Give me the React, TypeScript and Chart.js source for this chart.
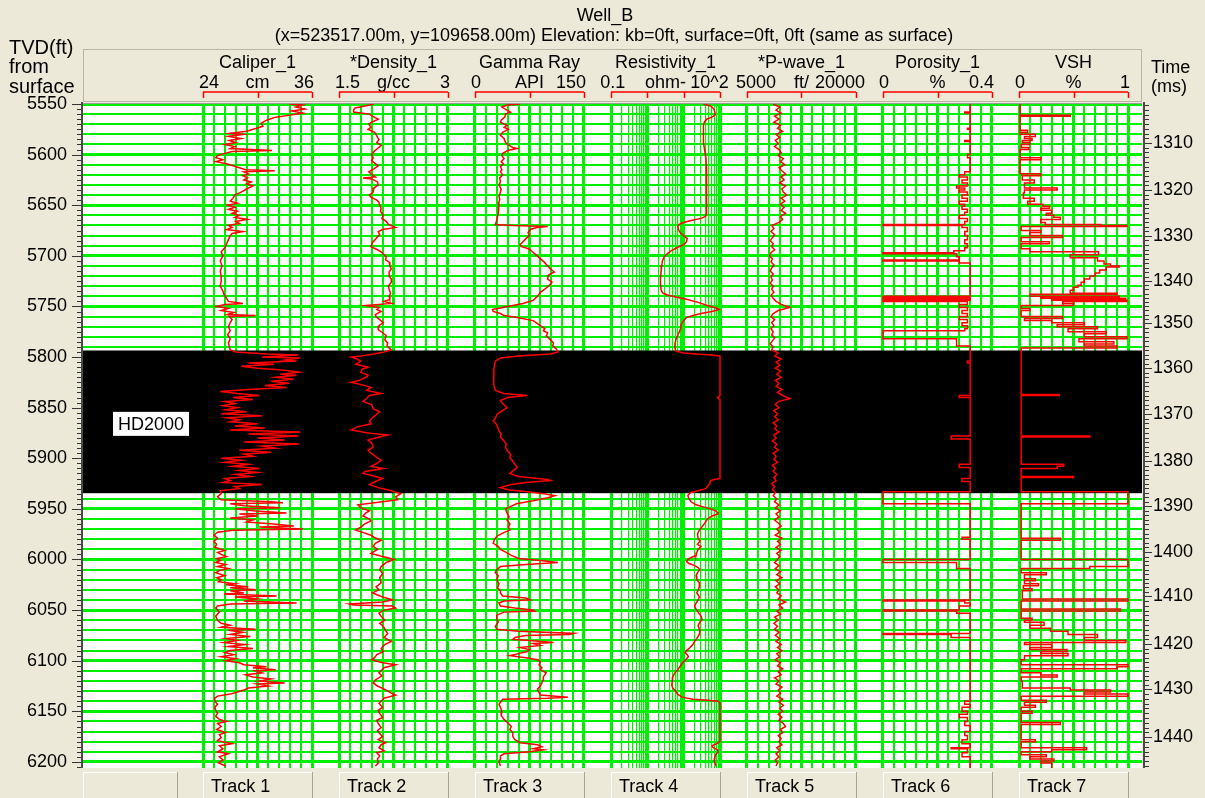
import React, { useEffect, useRef } from 'react';
import { Chart, registerables } from 'chart.js';
Chart.register(...registerables);

// ---------------- layout constants ----------------
const W = 1205;
const H = 798;
const PLOT = { left: 83, right: 1142, top: 104, bottom: 768 };
const TRACK_LEFT0 = 203;
const TRACK_PITCH = 136;
const TRACK_WIDTH = 109;
const BG = '#ECE9D8';
const GRID = '#00ee00';
const CURVE = '#ff0000';
const FONT = '"Liberation Sans", Arial, sans-serif';
const GRID_THIN = 2;
const GRID_THICK = 3;
const GRID_LOG_MINOR = 1.2;

// ---------------- axis / label data ----------------
const depthMin = 5550;
const depthMax = 6206;
const depthLabelStep = 50;
const depthGridStep = 10;
const depthMinorStep = 5;

const trackNames = ['Caliper_1', '*Density_1', 'Gamma Ray', 'Resistivity_1', '*P-wave_1', 'Porosity_1', 'VSH'];
const trackMin = [24, 1.5, 0, 0.1, 5000, 0, 0];
const trackMax = [36, 3, 150, 100, 20000, 0.4, 1];
const trackLog = [false, false, false, true, false, false, false];
const trackMinLabel = ['24', '1.5', '0', '0.1', '5000', '0', '0'];
const trackUnit = ['cm', 'g/cc', 'API', 'ohm-', 'ft/', '%', '%'];
const trackMaxLabel = ['36', '3', '150', '10^2', '20000', '0.4', '1'];
const trackButtons = ['Track 1', 'Track 2', 'Track 3', 'Track 4', 'Track 5', 'Track 6', 'Track 7'];

const timeLabels = [1310, 1320, 1330, 1340, 1350, 1360, 1370, 1380, 1390, 1400, 1410, 1420, 1430, 1440];
const timeDepths = [5588.5, 5635, 5680.4, 5724.9, 5766.4, 5810.9, 5856.3, 5902.8, 5947.2, 5992.7, 6036.2, 6083.6, 6128.1, 6175.5];

const wellTitle = 'Well_B';
const wellSubtitle = '(x=523517.00m, y=109658.00m) Elevation: kb=0ft, surface=0ft, 0ft (same as surface)';
const zoneName = 'HD2000';
const zoneTop = 5793.5;
const zoneBottom = 5934.5;
const zoneLabelDepth = 5866;

// ---------------- curve data: [depth ft, value] ----------------
const caliper: number[][] = [
  [5550, 33.5], [5551, 35.0], [5553, 34.2], [5555, 35.2], [5557, 33.8], [5559, 35.0], [5561, 33.6], [5563, 32.0],
  [5566, 31.0], [5569, 30.4], [5572, 30.6], [5574, 29.9], [5577, 28.8], [5579, 27.0], [5580, 28.4], [5582, 26.8],
  [5584, 28.2], [5586, 26.9], [5588, 27.6], [5590, 26.4], [5592, 27.5], [5594, 27.0], [5596, 31.6], [5597, 27.2],
  [5599, 26.3], [5601, 25.6], [5603, 25.4], [5605, 26.2], [5607, 25.4], [5609, 26.6], [5611, 27.3], [5613, 28.0],
  [5615, 28.7], [5616, 31.9], [5617, 28.5], [5619, 29.0], [5621, 28.4], [5623, 28.9], [5625, 28.5], [5627, 29.3],
  [5629, 28.8], [5631, 29.5], [5634, 28.8], [5637, 28.2], [5640, 27.5], [5643, 27.3], [5646, 27.0], [5648, 27.8],
  [5650, 26.7], [5652, 27.5], [5654, 26.8], [5656, 27.8], [5658, 27.2], [5660, 28.0], [5662, 27.5], [5664, 28.9],
  [5666, 27.6], [5668, 28.0], [5670, 26.8], [5672, 27.2], [5674, 26.6], [5676, 28.4], [5678, 27.2], [5680, 27.0],
  [5684, 26.8], [5688, 26.6], [5692, 26.4], [5696, 26.0], [5700, 26.2], [5705, 25.9], [5710, 26.1], [5715, 25.9],
  [5720, 26.0], [5725, 26.0], [5730, 25.9], [5735, 26.2], [5738, 26.3], [5742, 26.6], [5745, 26.8], [5747, 28.4],
  [5748, 26.4], [5750, 25.5], [5752, 26.8], [5754, 26.0], [5756, 27.4], [5758, 26.7], [5759, 29.8], [5760, 26.9],
  [5763, 27.2], [5766, 27.0], [5770, 26.8], [5774, 27.0], [5778, 26.7], [5782, 27.0], [5786, 26.8], [5790, 26.9],
  [5793, 27.0], [5795, 27.6], [5797, 31.0], [5798, 34.5], [5800, 30.5], [5801, 34.7], [5803, 33.0], [5804, 34.3],
  [5806, 29.0], [5807, 31.8], [5809, 28.2], [5811, 30.0], [5813, 33.0], [5815, 34.6], [5817, 32.5], [5818, 34.3],
  [5820, 32.0], [5822, 34.0], [5824, 31.5], [5826, 33.5], [5828, 30.8], [5830, 33.2], [5832, 29.0], [5834, 25.9],
  [5836, 27.8], [5838, 30.2], [5840, 27.3], [5842, 29.5], [5844, 26.4], [5846, 27.5], [5848, 26.2], [5850, 27.8],
  [5852, 26.5], [5854, 28.8], [5856, 26.0], [5858, 30.5], [5860, 26.6], [5862, 28.0], [5864, 27.0], [5866, 30.0],
  [5868, 27.5], [5870, 30.8], [5872, 27.0], [5874, 34.7], [5876, 29.0], [5878, 34.5], [5880, 30.0], [5882, 33.0],
  [5884, 28.5], [5886, 34.6], [5888, 30.5], [5890, 32.0], [5892, 28.0], [5894, 31.5], [5896, 28.5], [5898, 29.5],
  [5900, 26.0], [5902, 28.2], [5904, 26.4], [5906, 29.0], [5908, 27.3], [5910, 30.2], [5912, 28.0], [5914, 30.0],
  [5916, 27.6], [5918, 29.2], [5920, 26.4], [5922, 27.0], [5924, 26.2], [5926, 30.5], [5928, 27.5], [5930, 28.0],
  [5932, 25.9], [5935, 26.0], [5938, 25.6], [5941, 26.0], [5943, 31.5], [5944, 32.8], [5945, 27.0], [5947, 28.5],
  [5949, 32.5], [5950, 27.5], [5952, 29.8], [5954, 33.2], [5955, 28.0], [5957, 30.0], [5959, 27.0], [5961, 29.5],
  [5963, 28.8], [5965, 31.8], [5967, 34.0], [5968, 30.2], [5970, 35.0], [5971, 27.3], [5973, 25.6], [5976, 25.2],
  [5979, 25.6], [5982, 25.2], [5985, 25.5], [5988, 25.3], [5991, 26.4], [5993, 25.6], [5995, 26.0], [5997, 26.6],
  [5999, 25.5], [6001, 25.9], [6003, 25.4], [6005, 26.5], [6007, 25.6], [6009, 26.8], [6011, 25.8], [6013, 25.4],
  [6016, 26.4], [6018, 25.5], [6020, 26.0], [6022, 25.7], [6024, 27.5], [6025, 26.5], [6027, 29.0], [6028, 27.0],
  [6030, 29.8], [6031, 27.0], [6033, 28.5], [6034, 26.3], [6036, 32.1], [6037, 27.5], [6039, 30.0], [6041, 28.5],
  [6043, 34.3], [6044, 27.0], [6046, 25.6], [6048, 25.4], [6052, 25.8], [6056, 25.4], [6060, 25.6], [6063, 26.0],
  [6065, 27.0], [6067, 26.0], [6069, 29.8], [6070, 26.8], [6072, 28.4], [6074, 27.0], [6076, 29.2], [6078, 26.5],
  [6080, 27.8], [6082, 26.3], [6084, 28.6], [6086, 26.8], [6088, 29.5], [6090, 27.0], [6092, 26.4], [6094, 27.4],
  [6096, 26.0], [6098, 27.6], [6100, 26.5], [6102, 28.0], [6104, 28.5], [6106, 31.0], [6107, 29.5], [6109, 32.0],
  [6110, 29.8], [6112, 30.5], [6114, 28.7], [6116, 29.5], [6118, 31.5], [6120, 30.2], [6122, 33.0], [6123, 30.0],
  [6125, 31.2], [6127, 29.0], [6129, 28.5], [6131, 27.8], [6133, 27.0], [6135, 25.6], [6137, 25.3], [6140, 25.3],
  [6143, 25.6], [6146, 25.3], [6149, 25.4], [6152, 25.6], [6155, 25.4], [6158, 25.8], [6160, 26.6], [6162, 25.6],
  [6165, 26.0], [6168, 25.5], [6171, 26.5], [6173, 25.8], [6176, 26.0], [6179, 25.6], [6182, 27.2], [6184, 25.8],
  [6187, 26.2], [6190, 25.6], [6192, 26.8], [6195, 25.8], [6198, 26.2], [6201, 25.7], [6204, 26.5],
];

const density: number[][] = [
  [5550, 1.98], [5552, 1.86], [5554, 1.72], [5556, 1.70], [5558, 1.70], [5560, 1.92], [5562, 1.96], [5565, 2.04],
  [5568, 1.95], [5570, 1.91], [5573, 1.94], [5575, 1.90], [5578, 1.99], [5580, 2.01], [5583, 2.03], [5585, 2.05],
  [5588, 2.02], [5591, 2.08], [5594, 2.03], [5597, 1.98], [5600, 1.95], [5603, 1.97], [5606, 1.95], [5609, 2.00],
  [5611, 2.04], [5614, 1.98], [5617, 1.91], [5620, 1.96], [5622, 2.00], [5623, 1.83], [5624, 1.95], [5627, 2.03],
  [5630, 2.04], [5633, 1.98], [5637, 1.97], [5640, 1.92], [5642, 1.94], [5645, 2.02], [5647, 2.05], [5650, 2.06],
  [5653, 2.08], [5656, 2.07], [5660, 2.11], [5663, 2.09], [5666, 2.15], [5669, 2.18], [5672, 2.28], [5674, 2.10],
  [5676, 2.04], [5679, 2.06], [5683, 2.01], [5687, 1.96], [5691, 1.94], [5694, 2.03], [5696, 2.08], [5699, 2.12],
  [5701, 2.15], [5704, 2.14], [5706, 2.19], [5710, 2.20], [5713, 2.22], [5716, 2.19], [5720, 2.19], [5723, 2.22],
  [5726, 2.22], [5730, 2.18], [5733, 2.19], [5737, 2.21], [5740, 2.19], [5743, 2.20], [5745, 2.12], [5747, 2.22],
  [5749, 1.87], [5751, 2.05], [5753, 2.02], [5755, 2.08], [5758, 2.00], [5760, 2.01], [5763, 2.06], [5766, 2.11],
  [5769, 2.05], [5773, 2.04], [5776, 2.10], [5779, 2.15], [5783, 2.13], [5786, 2.17], [5789, 2.16], [5793, 2.22],
  [5795, 2.12], [5797, 1.98], [5799, 1.80], [5800, 1.67], [5802, 1.75], [5804, 1.80], [5807, 1.73], [5810, 1.90],
  [5812, 1.82], [5815, 1.80], [5818, 1.90], [5820, 1.87], [5823, 1.78], [5825, 1.67], [5828, 1.85], [5830, 1.94],
  [5833, 1.88], [5836, 2.08], [5838, 1.92], [5841, 1.88], [5844, 1.83], [5847, 1.95], [5851, 1.97], [5854, 2.06],
  [5857, 2.01], [5860, 1.96], [5863, 1.92], [5866, 1.94], [5869, 1.75], [5872, 1.67], [5875, 1.90], [5877, 2.17],
  [5880, 2.00], [5882, 1.90], [5885, 1.95], [5889, 1.97], [5892, 1.90], [5895, 1.94], [5898, 2.00], [5902, 2.08],
  [5905, 2.02], [5908, 1.94], [5910, 2.11], [5913, 1.86], [5915, 1.83], [5917, 1.95], [5920, 2.10], [5923, 2.00],
  [5926, 1.92], [5929, 2.04], [5931, 2.17], [5933, 2.26], [5935, 2.35], [5938, 2.28], [5941, 2.31], [5943, 2.10],
  [5946, 1.76], [5949, 1.80], [5952, 1.92], [5954, 1.87], [5957, 1.83], [5960, 1.92], [5962, 1.94], [5965, 1.85],
  [5968, 1.80], [5971, 1.73], [5973, 1.82], [5976, 1.94], [5978, 1.98], [5981, 2.08], [5984, 2.00], [5987, 1.97],
  [5990, 2.03], [5994, 1.94], [5997, 2.10], [6000, 2.26], [6003, 2.15], [6007, 2.08], [6010, 2.06], [6014, 2.10],
  [6018, 2.06], [6023, 2.08], [6027, 2.01], [6030, 2.05], [6033, 1.96], [6037, 2.10], [6040, 2.24], [6042, 2.10],
  [6044, 1.64], [6045, 1.70], [6046, 2.24], [6048, 2.28], [6050, 2.12], [6053, 2.05], [6056, 2.08], [6060, 2.13],
  [6063, 2.06], [6066, 2.11], [6070, 2.14], [6073, 2.17], [6077, 2.12], [6081, 2.22], [6084, 2.13], [6088, 2.08],
  [6091, 2.11], [6094, 2.02], [6097, 1.99], [6099, 1.95], [6102, 2.10], [6104, 2.28], [6107, 2.12], [6110, 2.08],
  [6112, 2.05], [6115, 2.09], [6119, 2.00], [6122, 1.97], [6125, 2.03], [6129, 2.15], [6132, 2.22], [6134, 2.28],
  [6137, 2.12], [6140, 2.08], [6142, 2.05], [6146, 2.10], [6149, 2.04], [6152, 2.06], [6156, 2.10], [6159, 2.02],
  [6162, 2.04], [6166, 2.08], [6169, 2.03], [6172, 2.06], [6175, 2.10], [6178, 2.04], [6181, 2.14], [6183, 2.08],
  [6186, 2.05], [6189, 2.12], [6191, 2.02], [6194, 2.06], [6197, 2.03], [6201, 2.04], [6204, 2.00],
];

const gammaRay: number[][] = [
  [5550, 62], [5551, 45], [5553, 37], [5556, 44], [5558, 49], [5560, 42], [5563, 41], [5566, 36], [5568, 35],
  [5571, 44], [5573, 40], [5575, 46], [5578, 38], [5581, 35], [5584, 40], [5588, 42], [5591, 47], [5593, 52],
  [5594, 58], [5596, 45], [5599, 38], [5601, 37], [5604, 40], [5607, 36], [5609, 39], [5612, 35], [5615, 37],
  [5617, 35], [5620, 38], [5623, 34], [5627, 35], [5630, 33], [5634, 36], [5637, 35], [5641, 33], [5644, 34],
  [5647, 33], [5651, 32], [5654, 33], [5657, 32], [5661, 31], [5665, 30], [5669, 28], [5670, 52], [5671, 100],
  [5672, 85], [5674, 76], [5677, 73], [5680, 75], [5683, 70], [5686, 66], [5689, 62], [5691, 64], [5693, 74],
  [5696, 79], [5699, 84], [5703, 90], [5706, 95], [5710, 100], [5713, 104], [5716, 109], [5719, 101], [5723, 100],
  [5726, 106], [5730, 101], [5733, 96], [5736, 90], [5740, 86], [5744, 80], [5747, 66], [5749, 52], [5751, 38],
  [5753, 24], [5755, 25], [5757, 35], [5759, 40], [5761, 58], [5764, 80], [5767, 86], [5769, 90], [5772, 96],
  [5774, 94], [5776, 100], [5779, 98], [5783, 104], [5786, 108], [5789, 107], [5792, 112], [5795, 114], [5797, 104],
  [5799, 60], [5801, 35], [5804, 28], [5808, 27], [5812, 26], [5817, 25], [5822, 26], [5827, 26], [5833, 28],
  [5836, 40], [5838, 72], [5840, 45], [5843, 35], [5846, 38], [5850, 44], [5853, 38], [5856, 31], [5860, 28],
  [5863, 25], [5866, 29], [5869, 31], [5873, 33], [5876, 36], [5879, 35], [5883, 40], [5886, 43], [5889, 42],
  [5893, 45], [5896, 49], [5899, 48], [5903, 52], [5906, 55], [5909, 58], [5912, 53], [5915, 48], [5918, 60],
  [5921, 100], [5922, 104], [5924, 70], [5926, 50], [5929, 35], [5931, 45], [5933, 72], [5935, 95], [5937, 110],
  [5939, 100], [5942, 80], [5945, 57], [5948, 48], [5950, 42], [5954, 44], [5958, 47], [5961, 44], [5965, 48],
  [5968, 46], [5971, 48], [5974, 38], [5977, 30], [5980, 27], [5984, 25], [5987, 32], [5990, 35], [5993, 43],
  [5996, 50], [5999, 60], [6001, 90], [6003, 114], [6005, 70], [6007, 35], [6010, 30], [6013, 28], [6016, 32],
  [6020, 30], [6024, 33], [6028, 31], [6031, 35], [6033, 35], [6036, 38], [6038, 70], [6040, 76], [6041, 40],
  [6043, 33], [6046, 35], [6048, 55], [6050, 80], [6051, 82], [6052, 40], [6055, 30], [6059, 30], [6062, 32],
  [6066, 28], [6069, 30], [6071, 60], [6073, 136], [6074, 130], [6075, 70], [6077, 55], [6079, 52], [6080, 75],
  [6082, 108], [6083, 80], [6085, 90], [6087, 62], [6089, 75], [6091, 72], [6093, 60], [6095, 48], [6097, 70],
  [6099, 86], [6101, 90], [6104, 88], [6107, 92], [6109, 90], [6112, 98], [6116, 94], [6119, 94], [6122, 92],
  [6125, 90], [6128, 86], [6131, 88], [6134, 90], [6136, 128], [6137, 100], [6138, 38], [6140, 36], [6143, 33],
  [6146, 35], [6150, 37], [6154, 36], [6158, 40], [6162, 46], [6165, 50], [6168, 48], [6171, 52], [6175, 52],
  [6178, 55], [6181, 62], [6183, 86], [6185, 92], [6187, 80], [6188, 94], [6190, 75], [6192, 40], [6194, 35],
  [6197, 35], [6200, 33], [6204, 35],
];

const resistivity: number[][] = [
  [5550, 35], [5552, 55], [5555, 68], [5558, 72], [5561, 73], [5563, 60], [5565, 43], [5568, 37], [5571, 35],
  [5580, 35], [5588, 35], [5596, 38], [5604, 41], [5612, 42], [5621, 43], [5630, 43], [5640, 43], [5650, 43],
  [5658, 42], [5661, 40], [5663, 30], [5665, 16], [5667, 10], [5669, 7.5], [5671, 6.9], [5674, 7.2], [5677, 8.0],
  [5680, 10], [5683, 12.5], [5686, 12], [5689, 10], [5692, 6.5], [5695, 4.5], [5698, 3.5], [5701, 2.9], [5705, 2.6],
  [5709, 2.5], [5715, 2.4], [5722, 2.3], [5728, 2.3], [5734, 2.4], [5737, 2.7], [5739, 3.8], [5741, 6.5], [5743, 12],
  [5746, 25], [5749, 45], [5752, 85], [5753, 95], [5755, 60], [5757, 30], [5759, 18], [5761, 12], [5764, 10],
  [5768, 8.5], [5772, 8.2], [5775, 7.6], [5778, 7.0], [5782, 6.2], [5786, 5.8], [5790, 5.7], [5794, 6.0], [5796, 10],
  [5797, 22], [5798, 60], [5799, 100], [5838, 100], [5840, 85], [5842, 100], [5920, 100], [5921, 70], [5922, 55],
  [5925, 52], [5928, 45], [5930, 40], [5932, 25], [5934, 15], [5937, 13], [5940, 14], [5943, 16], [5946, 22],
  [5948, 35], [5950, 55], [5952, 75], [5954, 90], [5955, 88], [5957, 60], [5960, 45], [5963, 40], [5966, 35],
  [5969, 30], [5972, 26], [5975, 24], [5979, 25], [5982, 28], [5985, 24], [5987, 30], [5990, 25], [5993, 23],
  [5996, 22], [5998, 16], [6000, 13], [6002, 12], [6004, 14], [6006, 20], [6008, 25], [6010, 28], [6013, 24],
  [6016, 22], [6020, 23], [6023, 27], [6027, 27], [6030, 25], [6033, 23], [6037, 27], [6040, 25], [6043, 22],
  [6046, 20], [6049, 22], [6053, 26], [6056, 30], [6059, 32], [6062, 28], [6065, 25], [6069, 27], [6072, 28],
  [6075, 26], [6078, 23], [6081, 20], [6084, 18], [6087, 15], [6090, 12], [6092, 11], [6094, 12.5], [6096, 13.5],
  [6098, 12], [6101, 10], [6104, 8.5], [6107, 7.5], [6110, 6.5], [6113, 5.5], [6116, 5.0], [6120, 4.9], [6124, 4.7],
  [6127, 5.0], [6130, 6.0], [6133, 6.8], [6136, 9], [6138, 18], [6139, 45], [6140, 90], [6142, 100], [6180, 100],
  [6182, 80], [6184, 60], [6186, 65], [6188, 85], [6190, 90], [6193, 75], [6196, 72], [6200, 70], [6204, 78],
];

const pWave: number[][] = [
  [5550, 8600], [5553, 9500], [5556, 9000], [5559, 9700], [5562, 8800], [5565, 9400], [5568, 8700], [5571, 9600],
  [5574, 9200], [5577, 9900], [5580, 9000], [5583, 9500], [5586, 8900], [5589, 9300], [5592, 8800], [5595, 9400],
  [5598, 9700], [5601, 9300], [5604, 10000], [5607, 9600], [5610, 10200], [5613, 9400], [5616, 9800], [5619, 10300],
  [5622, 9700], [5625, 10100], [5628, 9500], [5631, 10300], [5634, 9800], [5637, 10000], [5640, 10500], [5643, 9700],
  [5646, 10200], [5649, 9600], [5652, 10100], [5655, 9700], [5658, 10300], [5661, 9600], [5664, 9900], [5667, 9400],
  [5670, 8400], [5673, 8700], [5676, 8300], [5679, 8800], [5682, 8500], [5685, 8200], [5688, 8600], [5691, 8400],
  [5694, 8800], [5697, 8300], [5700, 8100], [5703, 8500], [5706, 8300], [5709, 8700], [5712, 8400], [5715, 8200],
  [5718, 8600], [5721, 8300], [5724, 8500], [5727, 8200], [5730, 8600], [5733, 8400], [5736, 8700], [5739, 8300],
  [5742, 8600], [5745, 9000], [5748, 9700], [5751, 10900], [5754, 9300], [5757, 8600], [5760, 8300], [5763, 8800],
  [5766, 8400], [5769, 8700], [5772, 8300], [5775, 8600], [5778, 8400], [5781, 8800], [5784, 8500], [5787, 8200],
  [5790, 8600], [5793, 8400], [5796, 9300], [5799, 8800], [5802, 9700], [5805, 9000], [5808, 9500], [5811, 8900],
  [5814, 9600], [5817, 9100], [5820, 9700], [5823, 8900], [5826, 9400], [5829, 9000], [5832, 9800], [5835, 9200],
  [5838, 9900], [5841, 10900], [5844, 9300], [5847, 8900], [5850, 9400], [5853, 8700], [5856, 9200], [5859, 8800],
  [5862, 9300], [5865, 8600], [5868, 9100], [5871, 8800], [5874, 9400], [5877, 8700], [5880, 9000], [5883, 8500],
  [5886, 9100], [5889, 8800], [5892, 9300], [5895, 8600], [5898, 9000], [5901, 8700], [5904, 9200], [5907, 8500],
  [5910, 8900], [5913, 8600], [5916, 9100], [5919, 8700], [5922, 9000], [5925, 8400], [5928, 8800], [5931, 8500],
  [5934, 8900], [5937, 8600], [5940, 9100], [5943, 8800], [5946, 9400], [5949, 8900], [5952, 9600], [5955, 9000],
  [5958, 9400], [5961, 8800], [5964, 9300], [5967, 9700], [5970, 9100], [5973, 9500], [5976, 8900], [5979, 9800],
  [5982, 9200], [5985, 9600], [5988, 9000], [5991, 9700], [5994, 9100], [5997, 9500], [6000, 9200], [6003, 8800],
  [6006, 9400], [6009, 8900], [6012, 9600], [6015, 9100], [6018, 9800], [6021, 9000], [6024, 9500], [6027, 8900],
  [6030, 9400], [6033, 9100], [6036, 9700], [6039, 9300], [6042, 10300], [6045, 9400], [6048, 9900], [6051, 9100],
  [6054, 9600], [6057, 8800], [6060, 9300], [6063, 8700], [6066, 9200], [6069, 8800], [6072, 9400], [6075, 8900],
  [6078, 9500], [6081, 9000], [6084, 9700], [6087, 9200], [6090, 9800], [6093, 9100], [6096, 9500], [6099, 8900],
  [6102, 9600], [6105, 9200], [6108, 9900], [6111, 9300], [6114, 9700], [6117, 8800], [6120, 9400], [6123, 9000],
  [6126, 9800], [6129, 9300], [6132, 9600], [6135, 9100], [6138, 9900], [6141, 9400], [6144, 10000], [6147, 9500],
  [6150, 9900], [6153, 9300], [6156, 9800], [6159, 9400], [6162, 10000], [6165, 10300], [6168, 9600], [6171, 9900],
  [6174, 9300], [6177, 9700], [6180, 9400], [6183, 9800], [6186, 9100], [6189, 9500], [6192, 9000], [6195, 9400],
  [6198, 8900], [6201, 9200], [6204, 9000],
];

const porosity: number[][] = [
  [5550, 0.32], [5558, 0.30], [5559, 0.32], [5574, 0.31], [5575, 0.32], [5586, 0.30], [5587, 0.32], [5600, 0.31],
  [5603, 0.32], [5617, 0.30], [5620, 0.28], [5622, 0.31], [5625, 0.29], [5628, 0.31], [5631, 0.27], [5633, 0.30],
  [5635, 0.28], [5637, 0.31], [5640, 0.29], [5643, 0.31], [5646, 0.28], [5649, 0.30], [5651, 0.29], [5654, 0.31],
  [5657, 0.30], [5660, 0.28], [5663, 0.31], [5666, 0.30], [5669, 0.0], [5670, 0.29], [5672, 0.31], [5676, 0.30],
  [5680, 0.31], [5684, 0.30], [5688, 0.31], [5692, 0.30], [5695, 0.26], [5697, 0.0], [5698, 0.27], [5701, 0.28],
  [5704, 0.0], [5705, 0.28], [5707, 0.32], [5740, 0.0], [5741, 0.32], [5742, 0.0], [5743, 0.32], [5744, 0.0],
  [5745, 0.31], [5748, 0.28], [5751, 0.31], [5754, 0.29], [5757, 0.31], [5760, 0.28], [5763, 0.31], [5766, 0.29],
  [5769, 0.31], [5772, 0.30], [5774, 0.0], [5782, 0.27], [5789, 0.32], [5804, 0.31], [5806, 0.32], [5838, 0.28],
  [5840, 0.32], [5878, 0.25], [5881, 0.32], [5906, 0.28], [5909, 0.32], [5920, 0.29], [5923, 0.32], [5933, 0.0],
  [5945, 0.32], [5978, 0.29], [5980, 0.32], [6000, 0.0], [6003, 0.27], [6009, 0.32], [6040, 0.0], [6041, 0.30],
  [6043, 0.32], [6046, 0.28], [6050, 0.0], [6051, 0.27], [6053, 0.32], [6073, 0.0], [6074, 0.25], [6077, 0.32],
  [6140, 0.30], [6143, 0.32], [6146, 0.29], [6150, 0.31], [6153, 0.28], [6156, 0.31], [6160, 0.30], [6164, 0.32],
  [6170, 0.30], [6174, 0.31], [6178, 0.29], [6182, 0.32], [6186, 0.25], [6187, 0.31], [6191, 0.29], [6195, 0.32],
  [6206, 0.32],
];

const vsh: number[][] = [
  [5550, 0.01], [5561, 0.47], [5562, 0.01], [5576, 0.08], [5578, 0.01], [5580, 0.15], [5582, 0.05], [5584, 0.12],
  [5586, 0.03], [5588, 0.10], [5590, 0.02], [5593, 0.09], [5595, 0.01], [5603, 0.20], [5605, 0.01], [5619, 0.20],
  [5621, 0.03], [5625, 0.14], [5628, 0.05], [5633, 0.35], [5635, 0.05], [5638, 0.04], [5643, 0.14], [5646, 0.08],
  [5649, 0.22], [5651, 0.28], [5653, 0.20], [5655, 0.30], [5658, 0.25], [5660, 0.32], [5662, 0.38], [5664, 0.20],
  [5667, 0.24], [5669, 0.75], [5670, 0.99], [5671, 0.02], [5675, 0.20], [5677, 0.10], [5680, 0.40], [5682, 0.02],
  [5686, 0.28], [5688, 0.02], [5693, 0.10], [5696, 0.73], [5699, 0.47], [5702, 0.72], [5705, 0.78], [5708, 0.84],
  [5710, 0.92], [5711, 0.80], [5714, 0.74], [5717, 0.70], [5720, 0.65], [5723, 0.60], [5726, 0.57], [5729, 0.54],
  [5731, 0.50], [5734, 0.47], [5737, 0.90], [5738, 0.10], [5740, 0.92], [5741, 0.20], [5742, 0.98], [5743, 0.30],
  [5744, 0.99], [5745, 0.40], [5747, 0.50], [5749, 0.02], [5752, 0.10], [5754, 0.02], [5760, 0.40], [5762, 0.05],
  [5764, 0.30], [5766, 0.60], [5768, 0.35], [5770, 0.72], [5772, 0.45], [5775, 0.80], [5777, 0.60], [5780, 0.99],
  [5782, 0.55], [5785, 0.87], [5787, 0.60], [5789, 0.90], [5791, 0.02], [5837, 0.37], [5838, 0.02], [5878, 0.65],
  [5879, 0.02], [5906, 0.41], [5908, 0.35], [5910, 0.02], [5918, 0.50], [5919, 0.02], [5933, 1.0], [5945, 0.02],
  [5979, 0.38], [5981, 0.02], [6000, 1.0], [6007, 0.65], [6009, 0.02], [6013, 0.25], [6015, 0.05], [6019, 0.15],
  [6021, 0.05], [6024, 0.18], [6026, 0.04], [6029, 0.12], [6031, 0.03], [6039, 1.0], [6041, 0.02], [6049, 0.93],
  [6051, 0.02], [6058, 0.12], [6060, 0.05], [6062, 0.23], [6065, 0.10], [6068, 0.29], [6071, 0.45], [6074, 0.72],
  [6077, 0.60], [6080, 0.98], [6082, 0.05], [6084, 0.30], [6087, 0.10], [6089, 0.44], [6091, 0.20], [6093, 0.45],
  [6095, 0.05], [6099, 0.02], [6104, 1.0], [6106, 0.90], [6108, 0.02], [6112, 0.20], [6114, 0.35], [6116, 0.02],
  [6120, 0.03], [6127, 0.47], [6129, 0.84], [6131, 0.60], [6133, 1.0], [6135, 0.02], [6139, 0.25], [6141, 0.05],
  [6144, 0.15], [6146, 0.02], [6150, 0.12], [6152, 0.02], [6161, 0.38], [6163, 0.02], [6178, 0.15], [6180, 0.02],
  [6186, 0.62], [6188, 0.30], [6190, 0.02], [6193, 0.25], [6195, 0.10], [6197, 0.32], [6199, 0.20], [6201, 0.30],
  [6206, 0.30],
];

const curves = [caliper, density, gammaRay, resistivity, pWave, porosity, vsh];
const curveStepped = [false, false, false, false, false, true, true];

// ---------------- helpers ----------------
function trackLeft(i: number) { return TRACK_LEFT0 + TRACK_PITCH * i; }
function trackRight(i: number) { return trackLeft(i) + TRACK_WIDTH; }

function trackRange(i: number) {
  const pl = trackLeft(i), pr = trackRight(i);
  let a = trackMin[i], b = trackMax[i];
  if (trackLog[i]) { a = Math.log10(a); b = Math.log10(b); }
  const k = (b - a) / (pr - pl);
  let min = a - (pl - PLOT.left) * k;
  let max = b + (PLOT.right - pr) * k;
  if (trackLog[i]) { min = Math.pow(10, min); max = Math.pow(10, max); }
  return { min, max };
}

function trackGridValues(i: number) {
  const vals: number[] = [];
  if (trackLog[i]) {
    const d0 = Math.round(Math.log10(trackMin[i]));
    const d1 = Math.round(Math.log10(trackMax[i]));
    for (let d = d0; d < d1; d++) {
      for (let m = 1; m <= 9; m++) vals.push(m * Math.pow(10, d));
    }
    vals.push(Math.pow(10, d1));
  } else {
    for (let j = 0; j <= 10; j++) vals.push(trackMin[i] + (j * (trackMax[i] - trackMin[i])) / 10);
  }
  return vals;
}

function isDecade(v: number) {
  const l = Math.log10(v);
  return Math.abs(l - Math.round(l)) < 1e-6;
}

function drawButton(ctx: CanvasRenderingContext2D, x: number, y: number, w: number, h: number, text: string) {
  ctx.fillStyle = BG;
  ctx.fillRect(x, y, w, h);
  ctx.lineWidth = 1;
  ctx.strokeStyle = '#ffffff';
  ctx.beginPath();
  ctx.moveTo(x + 0.5, y + h);
  ctx.lineTo(x + 0.5, y + 0.5);
  ctx.lineTo(x + w, y + 0.5);
  ctx.stroke();
  ctx.strokeStyle = '#a7a596';
  ctx.beginPath();
  ctx.moveTo(x + w - 0.5, y);
  ctx.lineTo(x + w - 0.5, y + h);
  ctx.stroke();
  if (text) {
    ctx.fillStyle = '#000';
    ctx.font = `18px ${FONT}`;
    ctx.textAlign = 'left';
    ctx.textBaseline = 'middle';
    ctx.fillText(text, x + 8, y + 15);
  }
}

const decorPlugin = {
  id: 'wellDecor',
  beforeDraw(chart: any) {
    const { ctx, chartArea: a } = chart;
    ctx.save();
    ctx.fillStyle = BG;
    ctx.fillRect(0, 0, chart.width, chart.height);
    ctx.fillStyle = '#ffffff';
    ctx.fillRect(a.left, a.top, a.right - a.left, a.bottom - a.top);
    ctx.restore();
  },
  beforeDatasetsDraw(chart: any) {
    const { ctx, chartArea: a } = chart;
    const y = chart.scales.y;
    const y1 = y.getPixelForValue(zoneTop);
    const y2 = y.getPixelForValue(zoneBottom);
    ctx.save();
    ctx.fillStyle = '#000';
    ctx.fillRect(a.left, y1, a.right - a.left, y2 - y1);
    ctx.restore();
  },
  afterDatasetsDraw(chart: any) {
    const { ctx } = chart;
    const y = chart.scales.y.getPixelForValue(zoneLabelDepth);
    ctx.save();
    ctx.font = `18px ${FONT}`;
    const tw = ctx.measureText(zoneName).width;
    ctx.fillStyle = '#fff';
    ctx.fillRect(113, y - 12, tw + 10, 24);
    ctx.fillStyle = '#000';
    ctx.textAlign = 'left';
    ctx.textBaseline = 'middle';
    ctx.fillText(zoneName, 118, y + 1);
    ctx.restore();
  },
  afterDraw(chart: any) {
    const { ctx, chartArea: a } = chart;
    const ys = chart.scales.y;
    ctx.save();

    // title
    ctx.fillStyle = '#000';
    ctx.font = `18px ${FONT}`;
    ctx.textAlign = 'center';
    ctx.textBaseline = 'middle';
    ctx.fillText(wellTitle, 605, 16);
    ctx.fillText(wellSubtitle, 614, 36);

    // header panel
    ctx.strokeStyle = '#b9b6a5';
    ctx.lineWidth = 1;
    ctx.strokeRect(a.left + 0.5, 49.5, a.right - a.left - 1, 52);

    // left / right captions
    ctx.textAlign = 'left';
    ctx.fillText('Time', 1151, 68);
    ctx.fillText('(ms)', 1151, 87);
    ctx.font = `20px ${FONT}`;
    ctx.fillText('TVD(ft)', 9, 48);
    ctx.fillText('from', 9, 67);
    ctx.fillText('surface', 9, 87);
    ctx.font = `18px ${FONT}`;

    // track headers
    for (let i = 0; i < trackNames.length; i++) {
      const pl = trackLeft(i), pr = trackRight(i);
      const cx = (pl + pr) / 2;
      ctx.fillStyle = '#000';
      ctx.textAlign = 'center';
      ctx.fillText(trackNames[i], cx, 63);
      const wl = ctx.measureText(trackMinLabel[i]).width;
      const wu = ctx.measureText(trackUnit[i]).width;
      const wr = ctx.measureText(trackMaxLabel[i]).width;
      let lx = pl - 4, rx = pr + 2;
      const need = wl + wu + wr + 24;
      if (need > rx - lx) { const ex = (need - (rx - lx)) / 2; lx -= ex; rx += ex; }
      ctx.textAlign = 'left';
      ctx.fillText(trackMinLabel[i], lx, 83);
      ctx.textAlign = 'center';
      ctx.fillText(trackUnit[i], cx, 83);
      ctx.textAlign = 'right';
      ctx.fillText(trackMaxLabel[i], rx, 83);

      // red scale bracket
      const xs = chart.scales['x' + i];
      const marks: number[] = trackLog[i]
        ? trackGridValues(i).filter(isDecade)
        : [trackMin[i], (trackMin[i] + trackMax[i]) / 2, trackMax[i]];
      ctx.strokeStyle = CURVE;
      ctx.lineWidth = 1.5;
      ctx.beginPath();
      ctx.moveTo(xs.getPixelForValue(trackMin[i]), 92);
      ctx.lineTo(xs.getPixelForValue(trackMax[i]), 92);
      for (const m of marks) {
        const px = Math.round(xs.getPixelForValue(m)) + 0.5;
        ctx.moveTo(px, 92);
        ctx.lineTo(px, 98);
      }
      ctx.stroke();
    }

    // top frame line of plot
    ctx.strokeStyle = '#9a9a9a';
    ctx.lineWidth = 1;
    ctx.beginPath();
    ctx.moveTo(a.left, a.top - 0.5);
    ctx.lineTo(a.right, a.top - 0.5);
    ctx.stroke();

    // axis lines
    ctx.strokeStyle = '#4a4a4a';
    ctx.lineWidth = 2;
    ctx.beginPath();
    ctx.moveTo(a.left - 1, a.top - 2);
    ctx.lineTo(a.left - 1, a.bottom);
    ctx.moveTo(a.right + 2, a.top - 2);
    ctx.lineTo(a.right + 2, a.bottom);
    ctx.stroke();

    // depth tick marks
    ctx.lineWidth = 1;
    ctx.strokeStyle = '#333';
    ctx.beginPath();
    for (let d = depthMin; d <= depthMax; d += depthMinorStep) {
      const py = Math.round(ys.getPixelForValue(d)) + 0.5;
      const len = d % depthLabelStep === 0 ? 9 : 4;
      ctx.moveTo(a.left - 2 - len, py);
      ctx.lineTo(a.left - 2, py);
    }
    // time tick marks (major at labelled times, minor every 1 ms)
    const minor: number[] = [];
    for (let k = 0; k < timeDepths.length - 1; k++) {
      const d0 = timeDepths[k], d1 = timeDepths[k + 1];
      for (let m = 1; m < 10; m++) minor.push(d0 + ((d1 - d0) * m) / 10);
    }
    const stepTop = (timeDepths[1] - timeDepths[0]) / 10;
    for (let d = timeDepths[0] - stepTop; d >= depthMin; d -= stepTop) minor.push(d);
    const nLast = timeDepths.length - 1;
    const stepBot = (timeDepths[nLast] - timeDepths[nLast - 1]) / 10;
    for (let d = timeDepths[nLast] + stepBot; d <= depthMax; d += stepBot) minor.push(d);
    for (const d of minor) {
      const py = Math.round(ys.getPixelForValue(d)) + 0.5;
      ctx.moveTo(a.right + 3, py);
      ctx.lineTo(a.right + 7, py);
    }
    for (const d of timeDepths) {
      const py = Math.round(ys.getPixelForValue(d)) + 0.5;
      ctx.moveTo(a.right + 3, py);
      ctx.lineTo(a.right + 10, py);
    }
    ctx.stroke();

    // bottom track buttons
    drawButton(ctx, a.left, a.bottom + 4, 95, 30, '');
    for (let i = 0; i < trackButtons.length; i++) {
      drawButton(ctx, trackLeft(i), a.bottom + 4, TRACK_WIDTH + 1, 30, trackButtons[i]);
    }
    ctx.restore();
  },
};

export default function App() {
  const canvasRef = useRef<HTMLCanvasElement | null>(null);

  useEffect(() => {
    const canvas = canvasRef.current;
    if (!canvas) return;

    const scales: any = {
      y: {
        type: 'linear',
        position: 'left',
        reverse: true,
        min: depthMin,
        max: depthMax,
        afterBuildTicks: (s: any) => {
          const t: any[] = [];
          for (let d = depthMin; d <= 6200; d += depthGridStep) t.push({ value: d });
          s.ticks = t;
        },
        afterFit: (s: any) => { s.width = PLOT.left; },
        grid: {
          color: GRID,
          lineWidth: (c: any) => (c.tick && c.tick.value % depthLabelStep === 0 ? GRID_THICK : GRID_THIN),
          drawTicks: false,
        },
        border: { display: false },
        ticks: {
          autoSkip: false,
          padding: 16,
          color: '#000',
          font: { family: FONT, size: 18 },
          callback: (v: any) => (Number(v) % depthLabelStep === 0 ? String(v) : ''),
        },
      },
      yT: {
        type: 'linear',
        position: 'right',
        reverse: true,
        min: depthMin,
        max: depthMax,
        afterBuildTicks: (s: any) => { s.ticks = timeDepths.map((v) => ({ value: v })); },
        afterFit: (s: any) => { s.width = W - PLOT.right; },
        grid: { drawOnChartArea: false, drawTicks: false },
        border: { display: false },
        ticks: {
          autoSkip: false,
          padding: 11,
          color: '#000',
          font: { family: FONT, size: 18 },
          callback: (_v: any, idx: number) => String(timeLabels[idx]),
        },
      },
    };

    for (let i = 0; i < trackNames.length; i++) {
      const r = trackRange(i);
      const gv = trackGridValues(i);
      const log = trackLog[i];
      scales['x' + i] = {
        type: log ? 'logarithmic' : 'linear',
        position: 'top',
        min: r.min,
        max: r.max,
        afterBuildTicks: (s: any) => { s.ticks = gv.map((v) => ({ value: v })); },
        afterFit: (s: any) => { s.height = 0; },
        grid: {
          color: GRID,
          lineWidth: (c: any) => {
            if (!c.tick) return GRID_THIN;
            if (log) return isDecade(c.tick.value) ? GRID_THICK : GRID_LOG_MINOR;
            return c.index % 5 === 0 ? GRID_THICK : GRID_THIN;
          },
          drawTicks: false,
        },
        border: { display: false },
        ticks: { display: false },
      };
    }

    const datasets = curves.map((c, i) => ({
      label: trackNames[i],
      data: c.map((p) => ({ x: p[1], y: p[0] })),
      xAxisID: 'x' + i,
      yAxisID: 'y',
      borderColor: CURVE,
      backgroundColor: CURVE,
      borderWidth: 1.5,
      pointRadius: 0,
      fill: false,
      tension: 0,
      stepped: curveStepped[i] ? 'after' : false,
    }));

    const chart = new Chart(canvas, {
      type: 'line',
      data: { datasets } as any,
      options: {
        animation: false,
        responsive: false,
        devicePixelRatio: 1,
        indexAxis: 'y',
        layout: { padding: { top: PLOT.top, bottom: H - PLOT.bottom, left: 0, right: 0 } },
        plugins: { legend: { display: false }, tooltip: { enabled: false }, title: { display: false } },
        scales,
      } as any,
      plugins: [decorPlugin as any],
    });

    return () => chart.destroy();
  }, []);

  return (
    <div style={{ position: 'absolute', left: 0, top: 0, width: W, height: H, background: BG }}>
      <canvas ref={canvasRef} width={W} height={H} style={{ display: 'block' }} />
    </div>
  );
}
